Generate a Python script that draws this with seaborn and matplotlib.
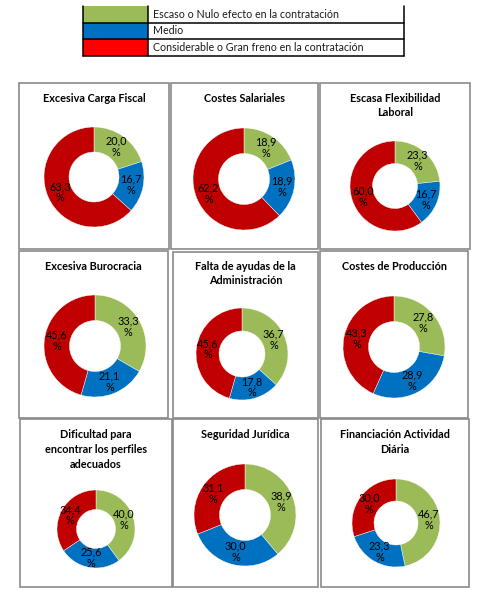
import matplotlib
matplotlib.use("Agg")
import matplotlib.pyplot as plt
import seaborn as sns
from matplotlib.patches import Rectangle
from matplotlib.lines import Line2D

# Data
titles = ["Excesiva Carga Fiscal", "Costes Salariales", "Escasa Flexibilidad\nLaboral",
          "Excesiva Burocracia", "Falta de ayudas de la\nAdministración", "Costes de Producción",
          "Dificultad para\nencontrar los perfiles\nadecuados", "Seguridad Jurídica",
          "Financiación Actividad\nDiária"]
escaso = [20.0, 18.9, 23.3, 33.3, 36.7, 27.8, 40.0, 38.9, 46.7]
medio = [16.7, 18.9, 16.7, 21.1, 17.8, 28.9, 25.6, 30.0, 23.3]
considerable = [63.3, 62.2, 60.0, 45.6, 45.6, 43.3, 34.4, 31.1, 30.0]
legend_labels = ["Escaso o Nulo efecto en la contratación", "Medio",
                 "Considerable o Gran freno en la contratación"]

# Layout in pixels (left, top, right, bottom) / (cx, cy, r)
W, H = 483, 592
boxes = [(19, 83, 169, 249), (171, 83, 318, 249), (320, 83, 470, 249),
         (19, 251, 168, 418), (173, 252, 318, 418), (320, 251, 468, 418),
         (20, 419, 172, 587), (173, 419, 318, 587), (321, 419, 469, 587)]
donuts = [(94, 177, 50), (244, 179, 51), (395, 186, 45),
          (95, 346, 51), (242, 354, 46), (394, 347, 51),
          (96, 529, 39), (245, 515, 51), (396, 523, 44)]
title_y = [98, 98, 98, 266, 266, 266, 435, 435, 435]

pie_colors = ["#9BBB59", "#0070C0", "#C00000"]
legend_colors = ["#9BBB59", "#0070C0", "#FF0000"]

sns.set_theme(style="white")
plt.rcParams["font.family"] = ["Lato", "DejaVu Sans"]

fig = plt.figure(figsize=(W / 100, H / 100), dpi=100)


def fx(x):
    return x / W


def fy(y):
    return 1 - y / H


# legend table
tl, tm, tr = 83, 148, 404
rows = [6, 23, 39, 56]
for i, (lab, col) in enumerate(zip(legend_labels, legend_colors)):
    y0, y1 = rows[i], rows[i + 1]
    fig.add_artist(Rectangle((fx(tl), fy(y1)), fx(tm) - fx(tl), fy(y0) - fy(y1),
                             facecolor=col, edgecolor="none", transform=fig.transFigure))
    fig.text(fx(tm + 5), fy((y0 + y1) / 2), lab, fontsize=7.7, va="center", ha="left", color="#1a1a1a")
for y in rows[1:]:
    fig.add_artist(Line2D([fx(tl), fx(tr)], [fy(y), fy(y)], color="black", lw=1.1,
                          transform=fig.transFigure))
for x in (tl, tm, tr):
    fig.add_artist(Line2D([fx(x), fx(x)], [fy(rows[0]), fy(rows[-1])], color="black", lw=1.1,
                          transform=fig.transFigure))

# panels
for i, title in enumerate(titles):
    l, t, r, b = boxes[i]
    fig.add_artist(Rectangle((fx(l), fy(b)), fx(r) - fx(l), fy(t) - fy(b), facecolor="none",
                             edgecolor="#8a8a8a", lw=1.2, transform=fig.transFigure))
    for k, line in enumerate(title.split("\n")):
        fig.text(fx((l + r) / 2), fy(title_y[i] + k * 14.5), line, fontsize=7.8, fontweight="bold",
                 ha="center", va="center", color="black")

    cx, cy, rad = donuts[i]
    ax = fig.add_axes([fx(cx - rad), fy(cy + rad), 2 * rad / W, 2 * rad / H])
    vals = [escaso[i], medio[i], considerable[i]]
    it = iter(vals)
    ax.pie(vals, colors=pie_colors, startangle=90, counterclock=False,
           wedgeprops=dict(width=0.5, edgecolor="white", linewidth=0.3),
           autopct=lambda p: f"{next(it):.1f}".replace(".", ",") + "\n%",
           pctdistance=0.75, textprops=dict(fontsize=7.8, color="black", linespacing=1.05))
    ax.set_xlim(-1, 1)
    ax.set_ylim(-1, 1)
    ax.set_aspect("equal")
    ax.axis("off")

fig.savefig("out.png", dpi=100, facecolor="white")
